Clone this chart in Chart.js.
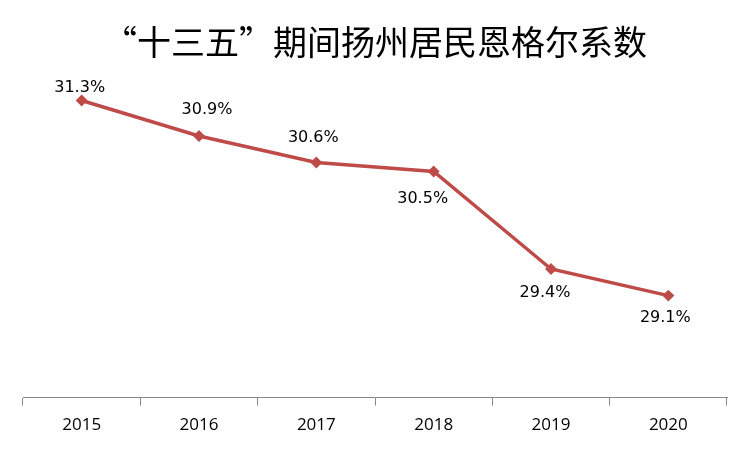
<!DOCTYPE html>
<html>
<head>
<meta charset="utf-8">
<script src="https://cdn.jsdelivr.net/npm/chart.js@4/dist/chart.umd.min.js"></script>
<style>
  html, body { margin: 0; padding: 0; background: #fff; }
  #wrap { width: 750px; height: 450px; }
</style>
</head>
<body>
<div id="wrap"><canvas id="chart"></canvas></div>
<script>
// --- DATA ---
const years = ['2015', '2016', '2017', '2018', '2019', '2020'];
const engel = [31.3, 30.9, 30.6, 30.5, 29.4, 29.1];
const titleText = '“十三五”期间扬州居民恩格尔系数';

// label offsets relative to each point (dx, dy)
const labelOffsets = [[-2, -13], [8, -26], [-3, -25], [-11, 27], [-6, 24], [-3, 22]];

const pointLabels = {
  id: 'pointLabels',
  afterDatasetsDraw(chart) {
    const ctx = chart.ctx;
    const meta = chart.getDatasetMeta(0);
    ctx.save();
    ctx.font = '16px "DejaVu Sans"';
    ctx.fillStyle = '#000';
    ctx.textAlign = 'center';
    ctx.textBaseline = 'middle';
    meta.data.forEach((pt, i) => {
      const o = labelOffsets[i];
      ctx.fillText(engel[i].toFixed(1) + '%', pt.x + o[0], pt.y + o[1]);
    });
    ctx.restore();
  }
};

new Chart(document.getElementById('chart'), {
  type: 'line',
  data: {
    labels: years,
    datasets: [{
      data: engel,
      borderColor: '#BE4B48',
      backgroundColor: '#BE4B48',
      borderWidth: 3.5,
      pointStyle: 'rectRot',
      pointRadius: 3.5,
      tension: 0
    }]
  },
  options: {
    responsive: true,
    maintainAspectRatio: false,
    animation: false,
    layout: { padding: { left: 23, right: 23, top: 0, bottom: 6 } },
    plugins: {
      legend: { display: false },
      tooltip: { enabled: false },
      title: {
        display: true,
        text: titleText,
        color: '#000',
        font: { family: '"Noto Sans CJK SC"', size: 34, weight: 'normal' },
        padding: { top: 22, bottom: 0 }
      }
    },
    scales: {
      y: { display: false, min: 27.95, max: 31.725 },
      x: {
        offset: true,
        border: { display: true, color: '#868686', width: 1 },
        grid: { offset: true, drawOnChartArea: false, drawTicks: true, tickLength: 8, color: '#868686' },
        ticks: { color: '#000', font: { family: '"Open Sans"', size: 17 }, padding: 9 }
      }
    }
  },
  plugins: [pointLabels]
});
</script>
</body>
</html>
